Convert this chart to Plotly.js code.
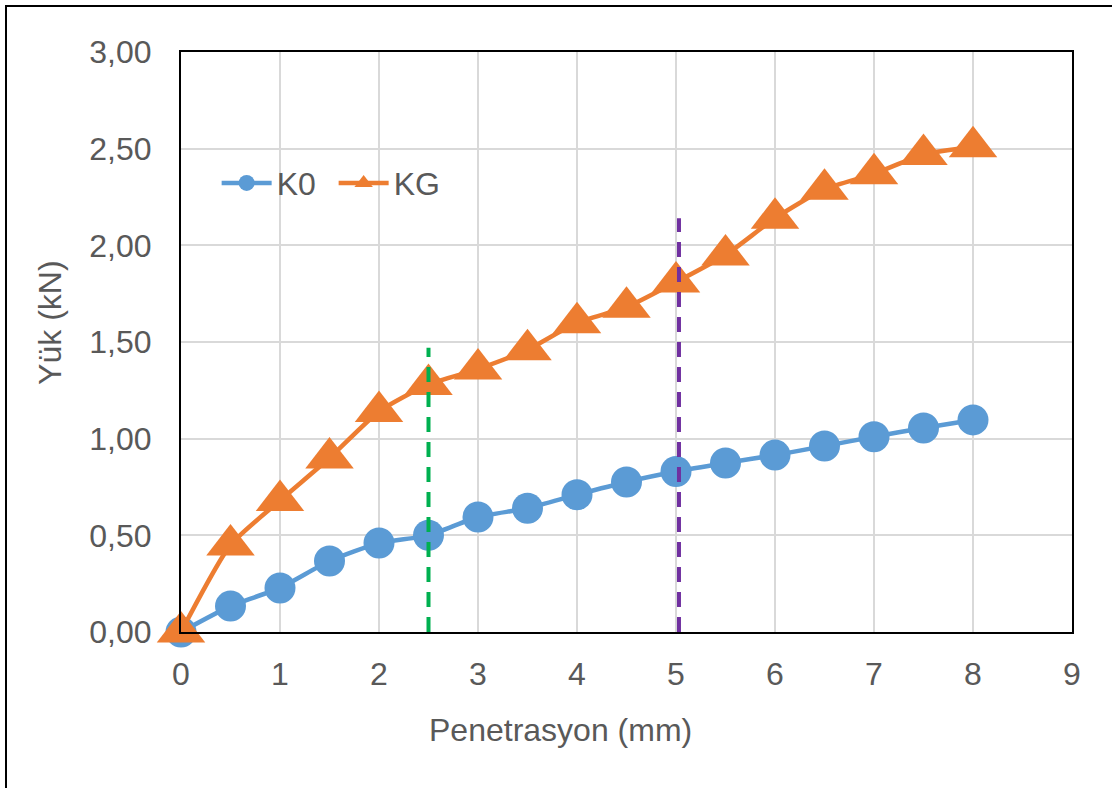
<!DOCTYPE html>
<html>
<head>
<meta charset="utf-8">
<script src="https://cdn.plot.ly/plotly-3.0.1.min.js"></script>
<style>
html,body{margin:0;padding:0;overflow:hidden;background:#fff;width:1112px;height:788px;}
#frame{position:absolute;left:5px;top:5px;width:1120px;height:800px;border:2px solid #000;box-sizing:border-box;}
#chart{position:absolute;left:0px;top:0px;width:1112px;height:788px;}
</style>
</head>
<body>
<div id="frame"><div id="chart"></div></div>
<script>
const penetration = [0, 0.5, 1, 1.5, 2, 2.5, 3, 3.5, 4, 4.5, 5, 5.5, 6, 6.5, 7, 7.5, 8];
const loadK0 = [0, 0.134, 0.228, 0.367, 0.46, 0.50, 0.595, 0.64, 0.71, 0.776, 0.83, 0.874, 0.915, 0.962, 1.01, 1.055, 1.097];
const loadKG = [0, 0.45, 0.68, 0.90, 1.14, 1.28, 1.36, 1.46, 1.60, 1.68, 1.81, 1.95, 2.14, 2.29, 2.37, 2.47, 2.51];
const greenX = [2.5, 2.5];
const greenY = [0, 1.47];
const purpleX = [5.03, 5.03];
const purpleY = [0, 2.14];
const seriesNames = ['K0', 'KG'];
const xTitle = 'Penetrasyon (mm)';
const yTitle = 'Yük (kN)';

const textColor = '#595959';
const traces = [
  {x: penetration, y: loadK0, name: seriesNames[0], mode: 'lines+markers', cliponaxis: false,
   line: {color: '#5B9BD5', width: 4.5, shape: 'spline', smoothing: 0.6},
   marker: {symbol: 'circle', size: 31, color: '#5B9BD5'}},
  {x: penetration, y: loadKG, name: seriesNames[1], mode: 'lines+markers', cliponaxis: false,
   line: {color: '#ED7D31', width: 4.5, shape: 'spline', smoothing: 0.6},
   marker: {symbol: 'triangle-up', size: 42, color: '#ED7D31'}},
  {x: greenX, y: greenY, mode: 'lines', showlegend: false, hoverinfo: 'skip',
   line: {color: '#00B050', width: 4, dash: '15px,10px'}},
  {x: purpleX, y: purpleY, mode: 'lines', showlegend: false, hoverinfo: 'skip',
   line: {color: '#7030A0', width: 4, dash: '15px,10px'}}
];

const layout = {
  width: 1112, height: 788,
  margin: {l: 174, r: 47, t: 45, b: 163},
  paper_bgcolor: 'rgba(0,0,0,0)', plot_bgcolor: '#fff',
  separators: ',.',
  font: {family: 'Liberation Sans, Arial, sans-serif', size: 32, color: textColor},
  showlegend: true,
  legend: {orientation: 'h', x: 0.04, y: 0.774, xanchor: 'left', yanchor: 'middle',
           bgcolor: 'rgba(0,0,0,0)', font: {size: 32, color: textColor}, itemwidth: 50,
           entrywidth: 52, entrywidthmode: 'pixels'},
  xaxis: {range: [0, 9], dtick: 1, tick0: 0, showgrid: true, gridcolor: '#d9d9d9', gridwidth: 2,
          zeroline: false, showline: true, linecolor: '#000', linewidth: 2, mirror: true,
          ticks: 'outside', ticklen: 13, tickcolor: 'rgba(0,0,0,0)'},
  yaxis: {range: [0, 3], dtick: 0.5, tick0: 0, tickformat: '.2f', showgrid: true, gridcolor: '#d9d9d9', gridwidth: 2,
          zeroline: false, showline: true, linecolor: '#000', linewidth: 2, mirror: true,
          ticks: 'outside', ticklen: 21, tickcolor: 'rgba(0,0,0,0)'},
  annotations: [
    {text: xTitle, xref: 'paper', yref: 'paper', x: 0.4254, y: -0.169, xanchor: 'center', yanchor: 'middle',
     showarrow: false, font: {size: 32, color: textColor}},
    {text: yTitle, xref: 'paper', yref: 'paper', x: -0.147, y: 0.533, xanchor: 'center', yanchor: 'middle',
     textangle: -90, showarrow: false, font: {size: 32, color: textColor}}
  ]
};

Plotly.newPlot('chart', traces, layout, {displayModeBar: false, staticPlot: true});
</script>
</body>
</html>
